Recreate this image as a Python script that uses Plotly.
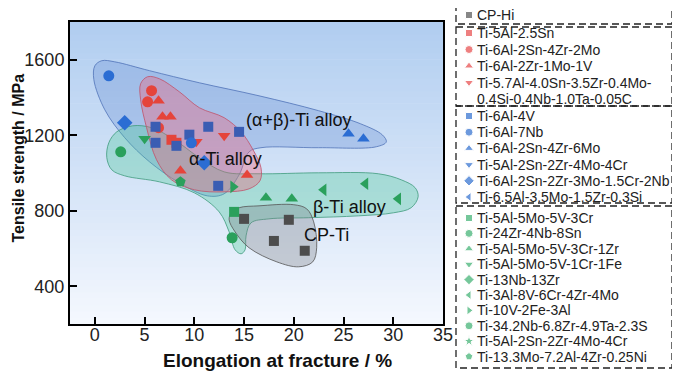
import plotly.graph_objects as go

# ---------------- data (elongation %, tensile MPa) ----------------
cp_hi_x = [15.0, 19.5, 18.0, 21.1]
cp_hi_y = [757, 752, 640, 588]

# alpha alloys
ti5al25sn_x = [7.7, 8.2]
ti5al25sn_y = [1176, 1160]
ti6al2sn4zr2mo_x = [5.7, 5.3, 6.4]
ti6al2sn4zr2mo_y = [1436, 1377, 1240]
ti6al2zr1mo1v_x = [6.4, 6.8, 7.6, 8.6, 15.3]
ti6al2zr1mo1v_y = [1383, 1298, 1298, 1012, 990]
ti57al_x = [10.2, 13.0]
ti57al_y = [1165, 1197]

# alpha+beta alloys
ti6al4v_x = [6.1, 6.1, 8.2, 9.5, 11.4, 14.5, 12.4]
ti6al4v_y = [1245, 1160, 1144, 1203, 1245, 1218, 932]
ti6al7nb_x = [1.4, 9.7]
ti6al7nb_y = [1515, 1160]
ti6al2sn4zr6mo_x = [25.5, 27.0]
ti6al2sn4zr6mo_y = [1208, 1181]
ti5al2sn2zr4mo4cr_ab_x = [9.7]
ti5al2sn2zr4mo4cr_ab_y = [1160]
ti6al2sn2zr3mo_x = [3.0, 11.0]
ti6al2sn2zr3mo_y = [1266, 1054]
ti65al_x = [6.1]
ti65al_y = [1160]

# beta alloys
ti5553cr_x = [14.0]
ti5553cr_y = [794]
ti24zr_x = [2.6]
ti24zr_y = [1112]
ti5553zr_x = [17.2, 19.8]
ti5553zr_y = [869, 863]
ti5551fe_x = [5.0]
ti5551fe_y = [1181]
ti13nb_x = [8.6]
ti13nb_y = [953]
ti38644_x = [23.0, 27.2, 30.5]
ti38644_y = [911, 943, 863]
ti1023_x = [13.9]
ti1023_y = [927]
ti342nb_x = [13.8]
ti342nb_y = [657]
ti5al2sn2zr4mo4cr_b_x = [14.0]
ti5al2sn2zr4mo4cr_b_y = [794]
ti133mo_x = [8.6]
ti133mo_y = [953]

x_ticks = [0, 5, 10, 15, 20, 25, 30, 35]
y_ticks = [400, 800, 1200, 1600]

# shaded region outlines (data units)
ab_region_x = [0.0, 0.7, 2.0, 5.5, 10.5, 16.5, 22.5, 26.7, 28.9, 29.3, 28.3, 22.5, 16.7, 15.5, 14.5, 13.0, 11.3, 8.5, 5.5, 3.0, 1.0, -0.1]
ab_region_y = [1568, 1595, 1589, 1542, 1478, 1409, 1330, 1261, 1202, 1165, 1139, 1134, 1134, 1112, 990, 890, 879, 948, 1059, 1187, 1335, 1494]
a_region_x = [4.6, 5.3, 6.5, 8.5, 10.5, 13.0, 14.7, 15.9, 16.7, 16.6, 15.5, 13.0, 10.0, 7.7, 6.2, 5.2, 4.6]
a_region_y = [1473, 1510, 1499, 1430, 1346, 1293, 1218, 1123, 1028, 959, 916, 900, 911, 964, 1070, 1240, 1388]
b_region_x = [1.2, 1.4, 2.2, 3.8, 5.7, 8.0, 10.5, 13.0, 16.5, 22.5, 28.5, 30.8, 32.2, 32.5, 31.8, 30.0, 26.5, 21.5, 17.5, 15.7, 15.2, 15.1, 14.7, 14.1, 13.5, 12.5, 10.0, 6.5, 3.0, 1.7]
b_region_y = [1081, 1160, 1218, 1250, 1240, 1176, 1081, 1006, 996, 1001, 996, 964, 922, 874, 816, 789, 773, 763, 757, 736, 667, 593, 572, 593, 688, 794, 895, 953, 985, 1017]
cp_region_x = [13.7, 14.5, 16.5, 20.0, 21.3, 22.0, 22.3, 21.9, 20.5, 18.3, 15.5, 14.1, 13.5]
cp_region_y = [789, 816, 826, 832, 810, 741, 604, 529, 503, 529, 604, 688, 752]

region_labels = ["(α+β)-Ti alloy", "α-Ti alloy", "β-Ti alloy", "CP-Ti"]
region_label_x = [20.5, 13.1, 25.6, 23.3]
region_label_y = [1282, 1075, 821, 672]

# ---------------- styling ----------------
RED, BLUE, BLUE_SQ, GREEN, GRAY = "#e5443b", "#2b6dd3", "#3a5db3", "#2aa05c", "#4d4d4d"
L_RED, L_BLUE, L_GREEN, L_GRAY = "#e84a4a", "#2f6fcf", "#3cb070", "#555555"

# (label, group, symbol, color, legend colour, xs, ys, drawn underneath another mark)
series = [
    ("CP-Hi", 0, "square", GRAY, L_GRAY, cp_hi_x, cp_hi_y, False),
    ("Ti-5Al-2.5Sn", 1, "square", RED, L_RED, ti5al25sn_x, ti5al25sn_y, False),
    ("Ti-6Al-2Sn-4Zr-2Mo", 1, "circle", RED, L_RED, ti6al2sn4zr2mo_x, ti6al2sn4zr2mo_y, False),
    ("Ti-6Al-2Zr-1Mo-1V", 1, "triangle-up", RED, L_RED, ti6al2zr1mo1v_x, ti6al2zr1mo1v_y, False),
    ("Ti-5.7Al-4.0Sn-3.5Zr-0.4Mo-|0.4Si-0.4Nb-1.0Ta-0.05C", 1, "triangle-down", RED, L_RED, ti57al_x, ti57al_y, False),
    ("Ti-6Al-4V", 2, "square", BLUE_SQ, L_BLUE, ti6al4v_x, ti6al4v_y, False),
    ("Ti-6Al-7Nb", 2, "circle", BLUE, L_BLUE, ti6al7nb_x, ti6al7nb_y, False),
    ("Ti-6Al-2Sn-4Zr-6Mo", 2, "triangle-up", BLUE, L_BLUE, ti6al2sn4zr6mo_x, ti6al2sn4zr6mo_y, False),
    ("Ti-5Al-2Sn-2Zr-4Mo-4Cr", 2, "triangle-down", BLUE, L_BLUE, ti5al2sn2zr4mo4cr_ab_x, ti5al2sn2zr4mo4cr_ab_y, True),
    ("Ti-6Al-2Sn-2Zr-3Mo-1.5Cr-2Nb", 2, "diamond", BLUE, L_BLUE, ti6al2sn2zr3mo_x, ti6al2sn2zr3mo_y, False),
    ("Ti-6.5Al-3.5Mo-1.5Zr-0.3Si", 2, "triangle-left", BLUE, L_BLUE, ti65al_x, ti65al_y, True),
    ("Ti-5Al-5Mo-5V-3Cr", 3, "square", GREEN, L_GREEN, ti5553cr_x, ti5553cr_y, False),
    ("Ti-24Zr-4Nb-8Sn", 3, "circle", GREEN, L_GREEN, ti24zr_x, ti24zr_y, False),
    ("Ti-5Al-5Mo-5V-3Cr-1Zr", 3, "triangle-up", GREEN, L_GREEN, ti5553zr_x, ti5553zr_y, False),
    ("Ti-5Al-5Mo-5V-1Cr-1Fe", 3, "triangle-down", GREEN, L_GREEN, ti5551fe_x, ti5551fe_y, False),
    ("Ti-13Nb-13Zr", 3, "diamond", GREEN, L_GREEN, ti13nb_x, ti13nb_y, True),
    ("Ti-3Al-8V-6Cr-4Zr-4Mo", 3, "triangle-left", GREEN, L_GREEN, ti38644_x, ti38644_y, False),
    ("Ti-10V-2Fe-3Al", 3, "triangle-right", GREEN, L_GREEN, ti1023_x, ti1023_y, False),
    ("Ti-34.2Nb-6.8Zr-4.9Ta-2.3S", 3, "circle", GREEN, L_GREEN, ti342nb_x, ti342nb_y, False),
    ("Ti-5Al-2Sn-2Zr-4Mo-4Cr", 3, "star", GREEN, L_GREEN, ti5al2sn2zr4mo4cr_b_x, ti5al2sn2zr4mo4cr_b_y, True),
    ("Ti-13.3Mo-7.2Al-4Zr-0.25Ni", 3, "pentagon", GREEN, L_GREEN, ti133mo_x, ti133mo_y, False),
]

MSIZE = {"square": 10, "circle": 11, "triangle-up": 11, "triangle-down": 11, "diamond": 12,
         "triangle-left": 11, "triangle-right": 11, "star": 11, "pentagon": 11}

# page body keeps an 8px margin, so the figure is 8px smaller and all pixel layout is shifted
OFF = 8
W, H = 680 - OFF, 380 - OFF


def px(v):
    return v - OFF


fig = go.Figure()

# shaded regions
regions = [
    (ab_region_x, ab_region_y, "rgba(95,135,210,0.30)", "#4f72b8"),
    (b_region_x, b_region_y, "rgba(70,200,150,0.33)", "#3f9a7c"),
    (a_region_x, a_region_y, "rgba(240,95,120,0.36)", "#c0526a"),
    (cp_region_x, cp_region_y, "rgba(120,125,130,0.33)", "#555555"),
]
for rx, ry, fc, lc in regions:
    fig.add_trace(go.Scatter(x=rx + rx[:1], y=ry + ry[:1], mode="lines", fill="toself",
                             fillcolor=fc, line=dict(color=lc, width=0.8, shape="spline", smoothing=1.0),
                             hoverinfo="skip", showlegend=False))

# marks that sit underneath others are drawn first (and smaller)
order = sorted(range(len(series)), key=lambda i: 0 if series[i][7] else 1)
for i in order:
    lab, g, sym, col, lcol, xs, ys, under = series[i]
    fig.add_trace(go.Scatter(x=xs, y=ys, mode="markers", name=lab.replace("|", ""),
                             marker=dict(symbol=sym, size=7 if under else MSIZE[sym], color=col,
                                         line=dict(width=0)),
                             showlegend=False))

# ---------------- manual legend (pixel-space overlay axes) ----------------
group_start = [15, 33, 116, 218]
group_pitch = [16.0, 16.5, 16.2, 15.4]
leg_x, leg_y, leg_sym, leg_col = [], [], [], []
annotations = []
row_in_group = {0: 0, 1: 0, 2: 0, 3: 0}
for lab, g, sym, col, lcol, xs, ys, under in series:
    yy = group_start[g] + group_pitch[g] * row_in_group[g]
    parts = lab.split("|")
    leg_x.append(px(469))
    leg_y.append(px(yy))
    leg_sym.append(sym)
    leg_col.append(lcol)
    for k, p in enumerate(parts):
        annotations.append(dict(x=px(475), y=px(yy + k * group_pitch[g]), xref="x2", yref="y2", text=p,
                                showarrow=False, xanchor="left", yanchor="middle",
                                font=dict(size=14, color="#222222")))
    row_in_group[g] += len(parts)

LSIZE = {"square": 7, "circle": 8, "triangle-up": 8, "triangle-down": 8, "diamond": 8,
         "triangle-left": 8, "triangle-right": 8, "star": 8, "pentagon": 8}
fig.add_trace(go.Scatter(x=leg_x, y=leg_y, xaxis="x2", yaxis="y2", mode="markers",
                         marker=dict(symbol=leg_sym, color=leg_col, size=[LSIZE[s] for s in leg_sym]),
                         hoverinfo="skip", showlegend=False, cliponaxis=False))

boxes = [(456, 672, 7, 24), (456, 672, 27, 106), (456, 672, 106, 203), (456, 672, 206, 368)]
shapes = []
for x0, x1, y0, y1 in boxes:
    shapes.append(dict(type="rect", xref="x2", yref="y2", x0=px(x0), x1=px(x1), y0=px(y0), y1=px(y1),
                       line=dict(color="#222222", width=1.3, dash="7px,4px"), layer="above"))

# background gradient of the plot area
N = 48
top, bot = (176, 205, 240), (245, 248, 254)
for i in range(N):
    t = (i + 0.5) / N  # 0 bottom -> 1 top
    c = tuple(int(round(bot[k] + (top[k] - bot[k]) * t)) for k in range(3))
    shapes.append(dict(type="rect", xref="x domain", yref="y domain", x0=0, x1=1,
                       y0=i / N, y1=(i + 1) / N + 0.002, line=dict(width=0),
                       fillcolor="rgb(%d,%d,%d)" % c, layer="below"))

# region labels
for t, x, y in zip(region_labels, region_label_x, region_label_y):
    annotations.append(dict(x=x, y=y, xref="x", yref="y", text=t, showarrow=False,
                            font=dict(size=18, color="#111111")))

# axis titles
annotations.append(dict(x=px(277), y=px(360), xref="x2", yref="y2",
                        text="<b>Elongation at fracture / %</b>", showarrow=False,
                        font=dict(size=19, color="#111111"), xanchor="center", yanchor="middle"))
annotations.append(dict(x=px(17.5), y=px(158), xref="x2", yref="y2",
                        text="<b>Tensile strength / MPa</b>", showarrow=False, textangle=-90,
                        font=dict(size=16, color="#111111"), xanchor="center", yanchor="middle"))

axis_common = dict(showgrid=False, zeroline=False, showline=True, linecolor="black", linewidth=2,
                   mirror=True, ticks="inside", ticklen=7, tickwidth=2, tickcolor="black",
                   tickfont=dict(size=18, color="#222222"), automargin=False)

fig.update_layout(
    width=W, height=H, template="none",
    margin=dict(l=0, r=0, t=0, b=0),
    paper_bgcolor="white", plot_bgcolor="rgba(0,0,0,0)",
    font=dict(family="Arial, Liberation Sans, sans-serif", color="#222222"),
    showlegend=False,
    xaxis=dict(domain=[px(70) / W, px(443) / W], range=[-2.5, 35], tickvals=x_ticks,
               ticklabelstandoff=-7, **axis_common),
    yaxis=dict(domain=[1 - px(324) / H, 1 - px(22) / H], range=[200, 1800], tickvals=y_ticks, **axis_common),
    xaxis2=dict(domain=[0, 1], range=[0, W], visible=False, anchor="y2", fixedrange=True),
    yaxis2=dict(domain=[0, 1], range=[H, 0], visible=False, anchor="x2", fixedrange=True),
    shapes=shapes, annotations=annotations,
)

fig.write_html("out.html")
